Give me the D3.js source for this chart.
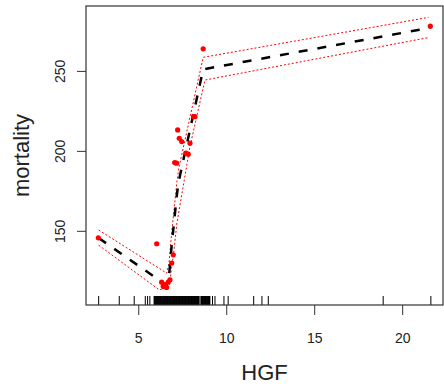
<!DOCTYPE html>
<html>
<head>
<meta charset="utf-8">
<script src="https://cdn.jsdelivr.net/npm/d3@7"></script>
<style>
  body { margin: 0; background: #fff; }
  text { font-family: "Liberation Sans", Arial, sans-serif; fill: #222; }
</style>
</head>
<body>
<div id="chart"></div>
<script>
// Observed points (HGF, mortality)
const pointX = [2.73, 6.05, 6.33, 6.42, 6.52, 6.61, 6.70, 6.80, 6.90, 6.99, 7.07, 7.18, 7.24, 7.33, 7.47, 7.71, 7.84, 7.94, 8.14, 8.22, 8.69, 21.6];
const pointY = [145.6, 141.9, 117.9, 115.2, 116.3, 114.6, 117.9, 119.4, 129.8, 135.0, 192.7, 192.3, 213.1, 207.9, 205.8, 198.6, 197.9, 204.8, 221.5, 221.4, 263.8, 278];

// Fitted curve
const fitX = [2.75, 6.6, 6.75, 6.9, 7.05, 7.2, 7.3, 8.69, 21.6];
const fitY = [145.5, 116, 122, 141, 157, 173, 181, 251, 277];

// Upper band
const upperX = [2.75, 6.62, 6.75, 6.9, 7.05, 7.2, 7.3, 8.69, 21.5];
const upperY = [150.5, 123.5, 130, 149, 165, 181, 189, 258.5, 283.5];

// Lower band
const lowerX = [2.75, 6.2, 6.75, 7.0, 7.2, 7.94, 8.79, 21.47];
const lowerY = [141, 113, 115, 135, 155, 202.7, 244.3, 270.8];

// Rug of HGF values
const rugX = [2.75, 3.92, 4.77, 5.40, 5.53, 5.66,
  5.90, 5.93, 5.96, 5.99, 6.02, 6.05, 6.08, 6.11, 6.13, 6.16, 6.19, 6.22, 6.25, 6.28,
  6.30, 6.33, 6.36, 6.39, 6.42, 6.45, 6.47, 6.50, 6.53, 6.56, 6.59, 6.62, 6.64, 6.67,
  6.70, 6.73, 6.76, 6.79, 6.81, 6.84, 6.87, 6.90, 6.93, 6.96, 6.98, 7.01, 7.04, 7.07,
  7.10, 7.13, 7.15, 7.18, 7.21, 7.24, 7.27, 7.30, 7.32, 7.35, 7.38, 7.41, 7.44, 7.47,
  7.49, 7.52, 7.55, 7.58, 7.61, 7.64, 7.66, 7.69, 7.72, 7.75, 7.78, 7.81, 7.83, 7.86,
  7.89, 7.92, 7.95, 7.98, 8.00, 8.03, 8.06, 8.09, 8.12, 8.15, 8.17, 8.20, 8.23, 8.26,
  8.29, 8.32, 8.34, 8.37, 8.40, 8.43, 8.46,
  8.56, 8.59, 8.62, 8.65, 8.67, 8.70, 8.73, 8.76, 8.79, 8.82, 8.84, 8.87, 8.90, 8.93,
  8.96, 8.99, 9.02, 9.05, 9.07,
  9.22, 9.36, 9.87, 10.11, 11.56, 12.03, 12.39, 18.92, 21.63];

// Tick labels
const xTicks = [5, 10, 15, 20];
const yTicks = [150, 200, 250];

// Layout
const width = 444, height = 387;
const box = { left: 86, right: 443, top: 6, bottom: 305 };

const svg = d3.select("#chart").append("svg")
  .attr("width", width)
  .attr("height", height);

const x = d3.scaleLinear().domain([2.03, 22.32]).range([box.left, box.right]);
const y = d3.scaleLinear().domain([103.6, 290.6]).range([box.bottom, box.top]);

const line = d3.line().x(d => x(d[0])).y(d => y(d[1]));

// Bands (dotted red)
[[upperX, upperY], [lowerX, lowerY]].forEach(([xs, ys]) => {
  svg.append("path")
    .attr("d", line(xs.map((v, i) => [v, ys[i]])))
    .attr("fill", "none")
    .attr("stroke", "#ff0000")
    .attr("stroke-width", 1)
    .attr("stroke-dasharray", "2,2");
});

// Fitted line (dashed black)
svg.append("path")
  .attr("d", line(fitX.map((v, i) => [v, fitY[i]])))
  .attr("fill", "none")
  .attr("stroke", "#000")
  .attr("stroke-width", 2.5)
  .attr("stroke-dasharray", "9,10");

// Points
svg.selectAll(".pt")
  .data(pointX.map((v, i) => [v, pointY[i]]))
  .enter().append("circle")
  .attr("cx", d => x(d[0]))
  .attr("cy", d => y(d[1]))
  .attr("r", 2.6)
  .attr("fill", "#ff0000");

// Rug
svg.selectAll(".rug")
  .data(rugX)
  .enter().append("line")
  .attr("x1", d => x(d)).attr("x2", d => x(d))
  .attr("y1", box.bottom).attr("y2", box.bottom - 9)
  .attr("stroke", "#000")
  .attr("stroke-width", 1);

// Box
svg.append("rect")
  .attr("x", box.left).attr("y", box.top)
  .attr("width", box.right - box.left)
  .attr("height", box.bottom - box.top)
  .attr("fill", "none")
  .attr("stroke", "#333")
  .attr("stroke-width", 1.2);

// X axis
const xAxis = svg.append("g").attr("transform", `translate(0,${box.bottom})`)
  .call(d3.axisBottom(x).tickValues(xTicks).tickSize(10).tickPadding(18).tickFormat(d3.format("d")));
xAxis.select(".domain").remove();
xAxis.selectAll("line").attr("stroke", "#333");
xAxis.selectAll("text").style("font-size", "14px").attr("fill", "#222");

// Y axis (labels rotated, R style)
const yAxis = svg.append("g").attr("transform", `translate(${box.left},0)`)
  .call(d3.axisLeft(y).tickValues(yTicks).tickSize(9).tickFormat(d3.format("d")));
yAxis.select(".domain").remove();
yAxis.selectAll("line").attr("stroke", "#333");
yAxis.selectAll("text")
  .style("font-size", "14px")
  .attr("fill", "#222")
  .attr("x", 0).attr("dy", 0)
  .attr("text-anchor", "middle")
  .attr("transform", "translate(-21,0) rotate(-90)");

// Axis titles
svg.append("text")
  .attr("x", (box.left + box.right) / 2)
  .attr("y", 380)
  .attr("text-anchor", "middle")
  .style("font-size", "22px")
  .text("HGF");

svg.append("text")
  .attr("transform", `translate(29,${(box.top + box.bottom) / 2}) rotate(-90)`)
  .attr("text-anchor", "middle")
  .style("font-size", "22px")
  .text("mortality");
</script>
</body>
</html>
